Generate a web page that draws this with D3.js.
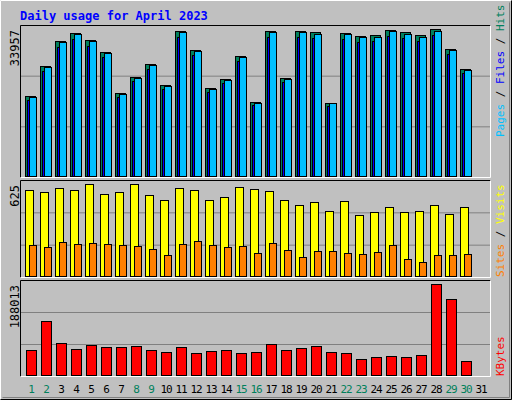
<!DOCTYPE html>
<html><head><meta charset="utf-8">
<script src="https://cdn.jsdelivr.net/npm/d3@7"></script>
<style>body{margin:0;background:#fff}text{font-family:"DejaVu Sans Mono",monospace}</style>
</head><body>
<svg id="chart" width="512" height="400"></svg>
<script>
// daily values, April 2023
var days = d3.range(1, 32);
var weekend = [1, 2, 8, 9, 15, 16, 22, 23, 29, 30];
var hits = [18553,25450,31198,33037,31427,28669,19243,22921,25910,21082,33497,29129,20392,22462,27749,17174,33497,22691,33497,33267,16944,33037,32347,32577,33727,33267,32577,33957,29358,24761,0];
var files = [17600,24300,29900,31700,30100,27400,18300,21900,24800,20100,32200,27900,19400,21400,26600,16300,32200,21700,32200,31900,16100,31700,31000,31200,32400,31900,31200,32600,28100,23700,0];
var pages = [18300,25150,30900,32700,31100,28350,19000,22650,25650,20850,33150,28800,20150,22200,27450,16950,33150,22400,33150,32900,16750,32700,32000,32200,33400,32900,32200,33600,29050,24500,0];
var visits = [584,570,598,584,625,557,570,625,550,516,598,584,516,536,604,591,577,516,482,502,441,509,414,435,469,435,441,482,421,469,0];
var sites = [210,197,231,217,224,217,210,204,183,143,217,238,210,197,204,156,224,177,129,170,170,156,149,163,210,115,95,143,143,149,0];
var kbytes = [51650,111564,66112,53716,61980,57848,57848,59914,51650,47518,57848,45452,49584,51650,45452,47518,64046,51650,55782,59914,47518,45452,33056,37188,39254,37188,41320,188013,157016,28924,0];

var svg = d3.select('#chart');
svg.append('rect').attr('width', 512).attr('height', 400).attr('fill', '#c0c0c0');
svg.append('path').attr('d', 'M0.5,399.5V0.5H511.5').attr('stroke', '#fff').attr('fill', 'none');
svg.append('path').attr('d', 'M0.5,399.5H511.5V0.5').attr('stroke', '#000').attr('fill', 'none');
svg.append('path').attr('d', 'M2.5,397.5H509.5V2.5').attr('stroke', '#808080').attr('fill', 'none');

svg.append('text').attr('x', 20).attr('y', 20).attr('fill', '#0000ff')
  .attr('font-weight', 'bold').attr('font-size', 12).text('Daily usage for April 2023');

var x = d3.scaleBand().domain(days).range([25, 490]).paddingInner(0).paddingOuter(0);

function panel(y0, y1, max, ytop, label) {
  svg.append('rect').attr('x', 20.5).attr('y', y0 + 0.5).attr('width', 470).attr('height', y1 - y0)
    .attr('fill', '#c0c0c0').attr('stroke', 'none');
  var h = y1 - y0;
  [1, 2].forEach(function(k){
    svg.append('line').attr('x1', 21).attr('x2', 490).attr('y1', y0 + h * k / 3 + 0.5).attr('y2', y0 + h * k / 3 + 0.5)
      .attr('stroke', '#808080');
  });
  svg.append('path').attr('d', 'M20.5,' + (y1 + 0.5) + 'V' + (y0 + 0.5) + 'H490.5').attr('stroke', '#000').attr('fill', 'none');
  svg.append('path').attr('d', 'M20.5,' + (y1 + 0.5) + 'H490.5V' + (y0 + 0.5)).attr('stroke', '#fff').attr('fill', 'none');
  svg.append('text').attr('transform', 'translate(19,' + (y0 + 5) + ') rotate(-90)')
    .attr('text-anchor', 'end').attr('font-size', 12).attr('fill', '#000').text(label);
  return d3.scaleLinear().domain([0, max]).range([y1 - 1, ytop]);
}

function bars(data, y, dx, w, fill) {
  svg.append('g').selectAll('rect').data(data).join('rect')
    .filter(function(d){ return d > 0; })
    .attr('x', function(d, i){ return x(days[i]) + dx + 0.5; })
    .attr('y', function(d){ return Math.round(y(d)) + 0.5; })
    .attr('width', w)
    .attr('height', function(d){ return y.range()[0] - Math.round(y(d)); })
    .attr('fill', fill).attr('stroke', '#000');
}

var y1 = panel(25, 177, 33957, 29, '33957');
bars(hits, y1, 0, 10, '#00805c');
bars(files, y1, 2, 9, '#0000ff');
bars(pages, y1, 4, 7, '#00c0ff');

var y2 = panel(180, 277, 625, 184, '625');
bars(visits, y2, 0, 8, '#ffff00');
bars(sites, y2, 4, 7, '#ff8000');

var y3 = panel(280, 376, 188013, 284, '188013');
bars(kbytes, y3, 1, 10, '#ff0000');

// day labels
svg.append('g').selectAll('text').data(days).join('text')
  .attr('x', function(d){ return x(d) + 6; })
  .attr('y', 393).attr('text-anchor', 'middle').attr('font-size', 11).attr('letter-spacing', -1)
  .attr('fill', function(d){ return weekend.indexOf(d) >= 0 ? '#00805c' : '#000'; })
  .text(function(d){ return d; });

// right side legends
function legend(yEnd, parts) {
  var t = svg.append('text').attr('transform', 'translate(504,' + yEnd + ') rotate(-90)')
    .attr('font-size', 11);
  parts.forEach(function(p){ t.append('tspan').attr('fill', p[1]).text(p[0]); });
}
legend(137, [['Pages', '#00c0ff'], [' / ', '#000'], ['Files', '#0000ff'], [' / ', '#000'], ['Hits', '#00805c']]);
legend(277, [['Sites', '#ff8000'], [' / ', '#000'], ['Visits', '#ffff00']]);
legend(376, [['KBytes', '#ff0000']]);
</script>
</body></html>
